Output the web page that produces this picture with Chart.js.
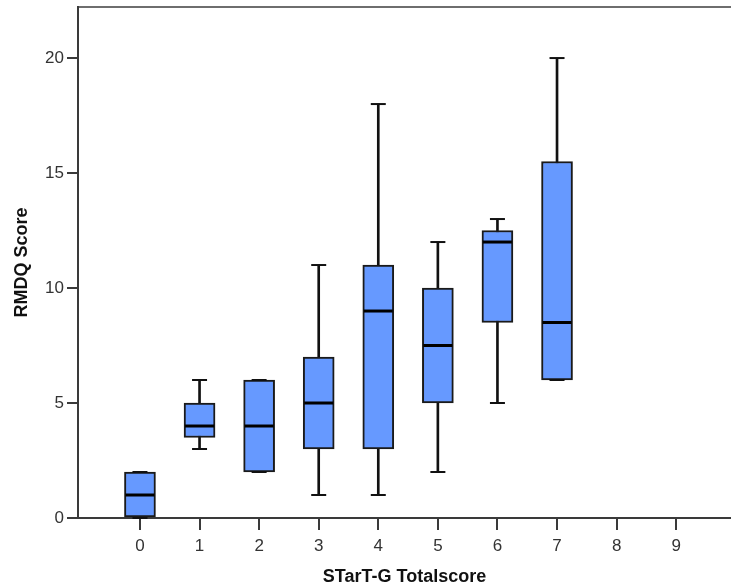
<!DOCTYPE html>
<html>
<head>
<meta charset="utf-8">
<script src="https://cdn.jsdelivr.net/npm/chart.js@4/dist/chart.umd.min.js"></script>
<style>
  html, body { margin: 0; padding: 0; background: #fff; overflow: hidden; }
  #wrap { width: 731px; height: 588px; position: relative; }
  canvas { display: block; }
</style>
</head>
<body>
<div id="wrap"><canvas id="myChart"></canvas></div>
<script>
// STarT-G total score groups (8 and 9 have no cases)
let categories = [0, 1, 2, 3, 4, 5, 6, 7];
let mins    = [0, 3, 2, 1, 1, 2, 5, 6];
let q1s     = [0, 3.5, 2, 3, 3, 5, 8.5, 6];
let medians = [1, 4, 4, 5, 9, 7.5, 12, 8.5];
let q3s     = [2, 5, 6, 7, 11, 10, 12.5, 15.5];
let maxs    = [2, 6, 6, 11, 18, 12, 13, 20];

let xTicks = [0, 1, 2, 3, 4, 5, 6, 7, 8, 9];
let yTicks = [0, 5, 10, 15, 20];

let boxColor = 'rgb(102,153,255)';
let axisColor = '#3a3a3a';
let labelFont = { family: 'Liberation Sans, Arial, sans-serif', size: 17 };
let titleFont = { family: 'Liberation Sans, Arial, sans-serif', size: 18, weight: 'bold' };

let ctx = document.getElementById('myChart').getContext('2d');

let whiskerData = categories.map((c, i) => ({ x: c, y: [mins[i], maxs[i]] }));
let boxData = categories.map((c, i) => ({ x: c, y: [q1s[i], q3s[i]] }));
let medianData = categories.map((c, i) => ({ x: c, y: medians[i] }));
let lowCapData = categories.map((c, i) => ({ x: c, y: mins[i] }));
let highCapData = categories.map((c, i) => ({ x: c, y: maxs[i] }));

// no automatic label padding, the plot area is placed by hand
function noPad(axis) {
    axis.paddingTop = 0;
    axis.paddingBottom = 0;
    axis.paddingLeft = 0;
    axis.paddingRight = 0;
}

let myChart = new Chart(ctx, {
    type: 'bar',
    data: {
        datasets: [
            {
                // whisker stems
                data: whiskerData,
                backgroundColor: '#111',
                barThickness: 2,
                grouped: false,
                order: 4
            },
            {
                // boxes (Q1 - Q3)
                data: boxData,
                backgroundColor: boxColor,
                borderColor: '#1a1a1a',
                borderWidth: 2,
                borderSkipped: false,
                barThickness: 31,
                grouped: false,
                order: 3
            },
            {
                type: 'line',
                data: lowCapData,
                showLine: false,
                pointStyle: 'line',
                pointRadius: 7.5,
                pointBorderWidth: 2,
                borderColor: '#111',
                clip: false,
                order: 2
            },
            {
                type: 'line',
                data: highCapData,
                showLine: false,
                pointStyle: 'line',
                pointRadius: 7.5,
                pointBorderWidth: 2,
                borderColor: '#111',
                clip: false,
                order: 2
            },
            {
                type: 'line',
                data: medianData,
                showLine: false,
                pointStyle: 'line',
                pointRadius: 14.5,
                pointBorderWidth: 3,
                borderColor: '#000',
                clip: false,
                order: 1
            }
        ]
    },
    options: {
        responsive: true,
        maintainAspectRatio: false,
        animation: false,
        layout: { autoPadding: false, padding: { top: 7, right: 0, bottom: 0, left: 0 } },
        plugins: {
            legend: { display: false },
            tooltip: { enabled: false }
        },
        scales: {
            x: {
                type: 'linear',
                position: 'bottom',
                min: -1.04,
                max: 9.92,
                offset: false,
                afterBuildTicks: axis => { axis.ticks = xTicks.map(v => ({ value: v })); },
                afterFit: axis => { axis.height = 70; noPad(axis); },
                grid: { offset: false, drawOnChartArea: false, drawTicks: true, tickLength: 12, color: axisColor, lineWidth: 2 },
                border: { display: true, color: axisColor, width: 2 },
                ticks: { color: '#333', font: labelFont, padding: 6, maxRotation: 0 },
                title: { display: true, text: 'STarT-G Totalscore', color: '#111', font: titleFont, padding: 0 }
            },
            xTop: {
                type: 'linear',
                position: 'top',
                min: -1.04,
                max: 9.92,
                afterFit: axis => { axis.height = 0; noPad(axis); },
                grid: { drawOnChartArea: false, drawTicks: false },
                border: { display: true, color: '#6e6e6e', width: 2 },
                ticks: { display: false, padding: 0 }
            },
            y: {
                type: 'linear',
                min: 0,
                max: 22.22,
                afterBuildTicks: axis => { axis.ticks = yTicks.map(v => ({ value: v })); },
                afterFit: axis => { axis.width = 78; noPad(axis); },
                grid: { drawOnChartArea: false, drawTicks: true, tickLength: 11, color: axisColor, lineWidth: 2 },
                border: { display: true, color: axisColor, width: 2 },
                ticks: { color: '#333', font: labelFont, padding: 3 },
                title: { display: true, text: 'RMDQ Score', color: '#111', font: titleFont, padding: { top: 11, bottom: 0 } }
            }
        }
    }
});
</script>
</body>
</html>
